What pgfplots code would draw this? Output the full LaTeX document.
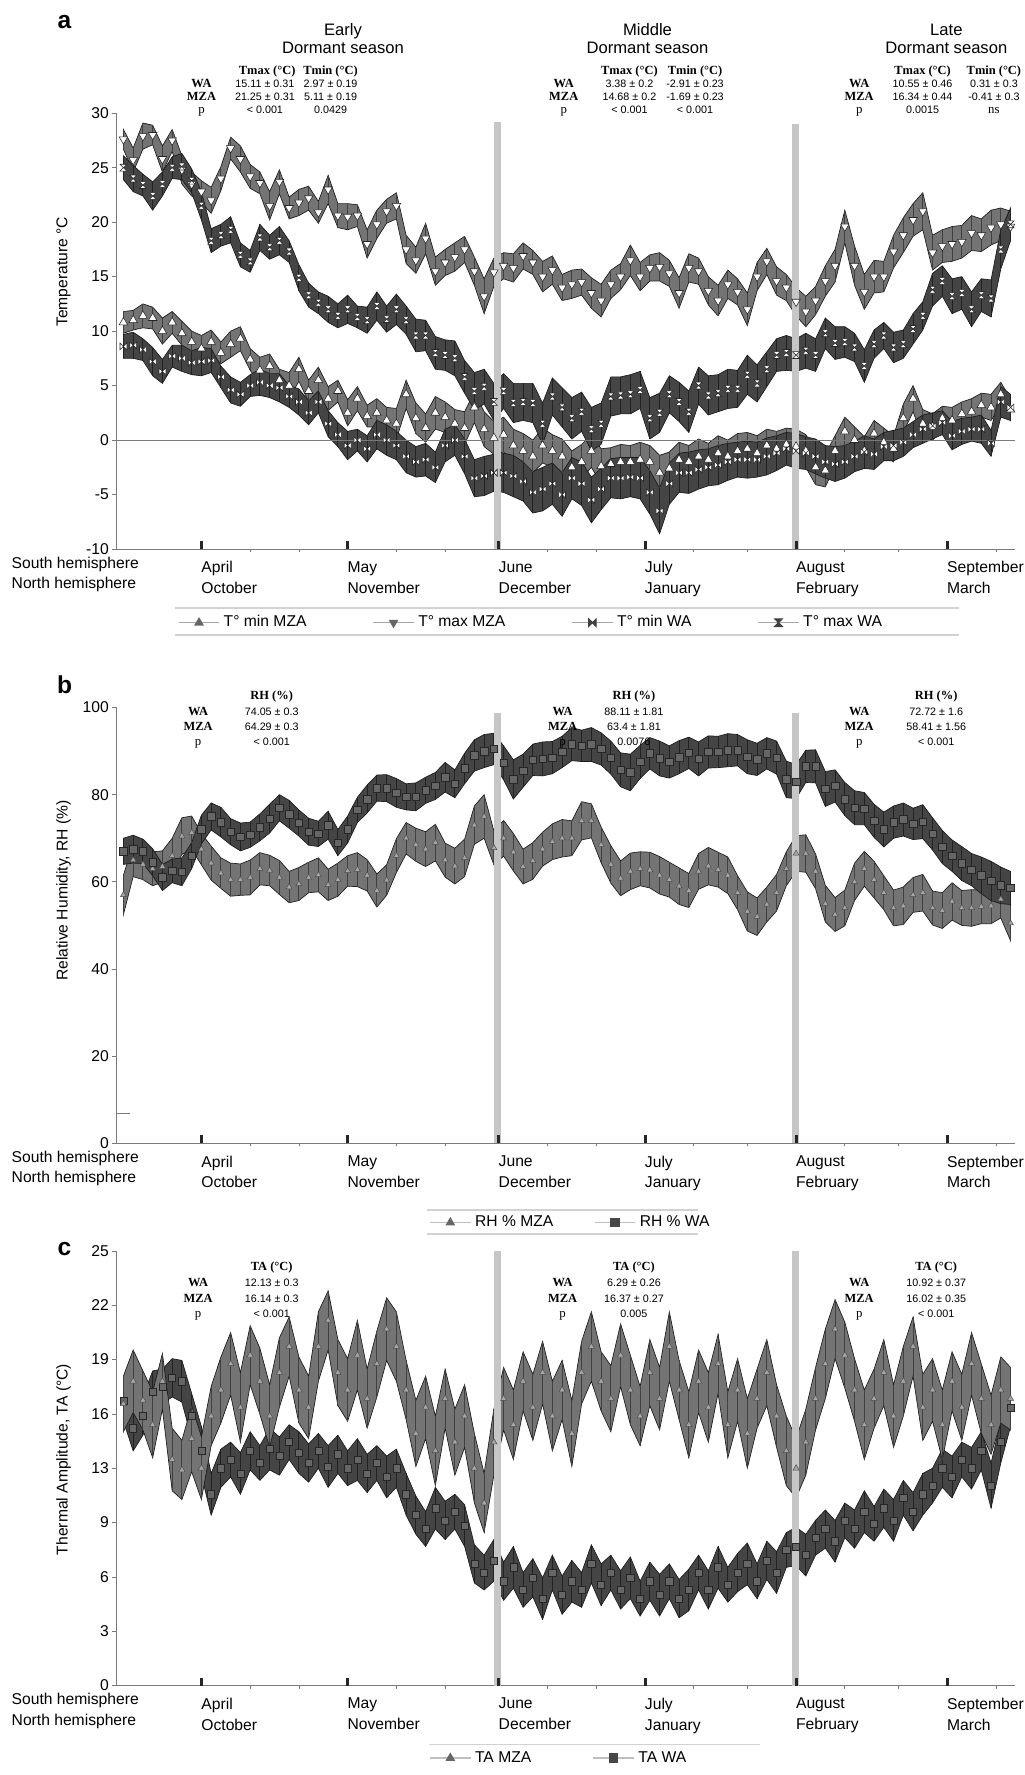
\documentclass[border=0pt]{standalone}
\usepackage{fontspec}
\setmainfont{Liberation Sans}
\newfontfamily\serifF{Liberation Serif}
\usepackage{pgfplots}
\pgfplotsset{compat=1.18}
\usepackage{pgfplotstable}
\usepgfplotslibrary{fillbetween}

\definecolor{mzafill}{HTML}{747474}
\definecolor{mzastripe}{HTML}{404040}
\definecolor{wafill}{HTML}{454545}
\definecolor{wastripe}{HTML}{222222}
\definecolor{bandedge}{HTML}{1A1A1A}
\definecolor{barcol}{HTML}{C6C6C6}
\definecolor{rulecol}{HTML}{D2D2D2}
\definecolor{axcol}{HTML}{7A7A7A}

\pgfdeclareplotmark{hglass}{%
 \pgfpathmoveto{\pgfqpoint{-\pgfplotmarksize}{\pgfplotmarksize}}%
 \pgfpathlineto{\pgfqpoint{\pgfplotmarksize}{\pgfplotmarksize}}%
 \pgfpathlineto{\pgfqpoint{-\pgfplotmarksize}{-\pgfplotmarksize}}%
 \pgfpathlineto{\pgfqpoint{\pgfplotmarksize}{-\pgfplotmarksize}}%
 \pgfpathclose\pgfusepathqfillstroke}
\pgfdeclareplotmark{bowtie}{%
 \pgfpathmoveto{\pgfqpoint{-\pgfplotmarksize}{\pgfplotmarksize}}%
 \pgfpathlineto{\pgfqpoint{-\pgfplotmarksize}{-\pgfplotmarksize}}%
 \pgfpathlineto{\pgfqpoint{\pgfplotmarksize}{\pgfplotmarksize}}%
 \pgfpathlineto{\pgfqpoint{\pgfplotmarksize}{-\pgfplotmarksize}}%
 \pgfpathclose\pgfusepathqfillstroke}

\newcommand\spx[2]{({(#1-103)*0.6pt},{(485-#2)*0.6pt})}
\newcommand\lab{\fontsize{8.3}{11}\selectfont}
\newcommand\hdr{\fontsize{8.8}{10}\selectfont}
\newcommand\hs{\serifF\bfseries\fontsize{6.6}{8}\selectfont}
\newcommand\ps{\serifF\fontsize{6.8}{8}\selectfont}
\newcommand\vs{\fontsize{5.7}{8}\selectfont}
\newcommand\tn[4]{\node[anchor=base, inner sep=0pt, font=#1] at \spx{#2}{#3} {#4};}

\newcommand\band[4]{%
 \addplot[draw=none, name path=#4U, forget plot] table[x=d, y expr=\thisrow{v}+\thisrow{e}] {#1};
 \addplot[draw=none, name path=#4L, forget plot] table[x=d, y expr=\thisrow{v}-\thisrow{e}] {#1};
 \addplot[fill=#2, draw=bandedge, line width=0.35pt, forget plot] fill between[of=#4U and #4L];
 \addplot[draw=none, mark=none, forget plot, error bars/.cd, y dir=both, y explicit, error mark=none, error bar style={draw=#3, line width=0.45pt}] table[x=d, y=v, y error=e] {#1};
}

\pgfplotsset{base/.style={
 scale only axis, width=476.4pt, height=231pt,
 xmin=-17.4, xmax=167,
 axis x line*=bottom, axis y line*=left,
 axis line style={draw=axcol, line width=0.5pt},
 xtick={0,30,61,91,122,153},
 xticklabels={{April\\October},{May\\November},{June\\December},{July\\January},{August\\February},{September\\March}},
 xtick style={draw=none},
 minor xtick={10,20,40,50,71,81,101,112,132,143,163},
 minor tick length=1.6pt,
 every minor x tick/.style={draw=axcol, line width=0.4pt},
 xticklabel style={anchor=north west, align=left, inner sep=0pt, xshift=-0.2pt, yshift=-4pt, font=\lab},
 tick align=outside, major tick length=2.4pt,
 ytick style={draw=axcol, line width=0.4pt},
 yticklabel style={font=\lab, inner sep=0pt, xshift=-1.5pt},
 ylabel style={font=\lab, anchor=center},
 legend style={draw=none, fill=none, inner sep=0pt, font=\lab, anchor=west},
 legend image code/.code={\draw[mark repeat=2,mark phase=2,##1] plot coordinates {(0pt,0pt) (10.8pt,0pt) (21.6pt,0pt)};},
}}

\pgfplotstableread{
d v e
-16 27.6 0.9
-14 25.7 1.1
-12 27.9 1.2
-10 28.0 0.9
-8 25.8 1.2
-6 27.5 1.0
-4 24.8 1.3
-2 23.5 1.1
0 22.8 1.0
2 22.0 1.2
4 24.0 1.1
6 26.8 1.0
8 25.8 1.2
10 24.2 1.1
12 23.6 1.0
14 21.5 1.3
16 23.7 1.1
18 21.3 1.0
20 21.8 1.2
22 22.2 1.1
24 20.9 1.0
26 23.0 1.3
28 20.6 1.1
30 20.5 1.2
32 20.6 1.0
34 18.0 1.3
36 19.8 1.3
38 21.0 1.1
40 21.5 1.2
42 17.5 1.3
44 16.5 1.2
46 18.5 1.4
48 15.5 1.3
50 16.3 1.2
52 16.8 1.3
54 17.5 1.2
56 15.5 1.3
58 13.2 1.6
60 15.4 1.3
62 16.0 1.2
64 15.8 1.3
66 16.9 1.2
68 16.3 1.1
70 15.0 1.4
72 15.6 1.3
74 14.0 1.2
76 14.3 1.3
78 14.5 1.2
80 13.5 1.4
82 12.8 1.5
84 14.3 1.3
86 15.0 1.2
88 16.5 1.4
90 15.0 1.3
92 15.8 1.2
94 15.9 1.3
96 15.3 1.2
98 13.5 1.4
100 15.8 1.3
102 15.5 1.2
104 13.7 1.3
106 12.8 1.4
108 14.3 1.3
110 13.6 1.2
112 12.0 1.5
114 15.0 1.3
116 16.4 1.2
118 14.6 1.3
120 14.0 1.2
122 12.7 1.3
124 11.8 1.4
126 12.8 1.3
128 14.6 1.4
130 16.0 1.5
132 19.6 1.5
134 16.0 1.8
136 13.6 1.6
138 15.0 1.5
140 15.0 1.4
142 17.3 1.5
144 18.8 1.6
146 20.2 1.5
148 21.0 1.7
150 17.2 1.6
152 17.8 1.5
154 18.0 1.6
156 18.2 1.5
158 19.0 1.6
160 18.8 1.5
162 19.5 1.6
164 19.8 1.5
166 19.6 1.4
}\TxM

\pgfplotstableread{
d v e
-16 25.0 1.1
-14 24.0 1.2
-12 23.4 1.0
-10 22.4 1.3
-8 23.5 1.1
-6 25.0 1.0
-4 25.1 1.2
-2 23.8 1.1
0 21.5 1.3
2 18.3 1.1
4 18.8 1.0
6 19.3 1.2
8 17.0 1.1
10 16.4 1.0
12 18.6 1.2
14 17.7 1.1
16 18.3 1.3
18 17.3 1.0
20 14.9 1.2
22 13.3 1.1
24 12.6 1.0
26 12.0 1.2
28 11.4 1.1
30 12.0 1.3
32 11.3 1.0
34 11.0 1.2
36 12.3 1.3
38 11.1 1.2
40 12.0 1.4
42 11.0 1.3
44 9.6 1.5
46 9.6 1.4
48 8.0 1.5
50 7.8 1.4
52 7.5 1.6
54 5.8 1.5
56 4.5 1.7
58 4.9 1.6
60 3.5 1.7
62 4.5 1.6
64 3.4 1.8
66 3.5 1.7
68 3.4 1.8
70 1.5 1.9
72 4.0 1.7
74 3.0 1.8
76 2.0 1.9
78 2.6 1.8
80 1.0 2.0
82 1.5 1.9
84 4.0 1.8
86 4.1 1.7
88 4.2 1.8
90 4.6 1.7
92 2.0 1.9
94 2.5 1.8
96 4.2 1.7
98 3.5 1.8
100 2.6 1.9
102 5.0 1.7
104 4.1 1.8
106 4.3 1.7
108 4.7 1.8
110 4.7 1.7
112 6.0 1.8
114 5.2 1.7
116 6.5 1.6
118 7.8 1.5
120 8.0 1.6
122 7.8 1.5
124 8.2 1.6
126 7.8 1.5
128 9.8 1.4
130 8.9 1.5
132 9.0 1.4
134 8.5 1.3
136 6.8 1.5
138 8.8 1.3
140 9.6 1.2
142 8.5 1.4
144 8.8 1.3
146 10.2 1.4
148 11.4 1.3
150 13.8 1.5
152 14.6 1.4
154 13.2 1.6
156 13.5 1.5
158 12.0 1.6
160 13.3 1.5
162 13.0 1.7
164 17.5 1.8
166 19.8 1.5
}\TxW

\pgfplotstableread{
d v e
-16 10.8 1.0
-14 11.0 0.9
-12 11.4 1.1
-10 11.2 1.0
-8 10.0 1.2
-6 10.8 1.0
-4 9.8 1.1
-2 9.0 1.0
0 8.4 1.2
2 9.0 1.1
4 8.0 1.0
6 8.8 1.2
8 9.3 1.1
10 7.4 1.0
12 6.4 1.2
14 6.8 1.1
16 5.5 1.0
18 5.0 1.2
20 6.5 1.1
22 4.5 1.0
24 5.5 1.2
26 3.8 1.1
28 4.5 1.0
30 2.5 1.2
32 3.8 1.1
34 2.2 1.0
36 2.5 1.3
38 1.8 1.2
40 1.5 1.4
42 4.2 1.3
44 2.0 1.4
46 1.1 1.3
48 2.5 1.5
50 2.1 1.4
52 1.5 1.3
54 1.1 1.5
56 3.0 1.4
58 1.0 1.6
60 0.2 1.5
62 0.5 1.6
64 -0.5 1.5
66 -1.0 1.6
68 -1.5 1.5
70 -0.5 1.6
72 -1.0 1.5
74 -1.5 1.6
76 -2.5 1.5
78 -2.0 1.6
80 -1.0 1.5
82 -2.4 1.6
84 -2.2 1.5
86 -2.0 1.6
88 -2.0 1.5
90 -1.8 1.6
92 -2.0 1.5
94 -3.0 1.6
96 -2.6 1.5
98 -1.8 1.6
100 -2.0 1.5
102 -1.5 1.6
104 -1.8 1.5
106 -1.2 1.6
108 -1.5 1.5
110 -1.0 1.6
112 -0.8 1.5
114 -1.2 1.6
116 -0.5 1.5
118 -0.8 1.6
120 -0.4 1.5
122 -0.6 1.6
124 -1.0 1.5
126 -2.5 1.6
128 -2.8 1.5
130 -1.0 1.4
132 0.8 1.3
134 0.0 1.2
136 -1.0 1.3
138 0.6 1.2
140 -0.2 1.3
142 -0.8 1.2
144 2.0 1.3
146 3.8 1.2
148 1.5 1.3
150 1.2 1.2
152 2.0 1.1
154 1.8 1.2
156 2.4 1.1
158 2.6 1.2
160 3.2 1.1
162 3.0 1.2
164 4.2 1.1
166 2.8 1.0
}\TnM

\pgfplotstableread{
d v e
-16 8.6 1.1
-14 8.7 1.2
-12 8.3 1.0
-10 7.2 1.3
-8 6.3 1.1
-6 7.7 1.0
-4 7.5 1.2
-2 7.1 1.1
0 7.2 1.3
2 7.3 1.1
4 5.8 1.0
6 4.6 1.2
8 4.2 1.1
10 5.0 1.0
12 5.3 1.2
14 5.0 1.1
16 4.8 1.3
18 4.0 1.0
20 3.5 1.2
22 2.5 1.1
24 3.5 1.0
26 1.5 1.2
28 0.5 1.1
30 -0.5 1.3
32 0.0 1.0
34 -0.8 1.2
36 0.5 1.3
38 0.0 1.4
40 -0.5 1.3
42 -1.5 1.5
44 -2.0 1.4
46 -1.8 1.5
48 -2.5 1.4
50 -0.5 1.5
52 0.0 1.4
54 -1.5 1.6
56 -3.5 1.7
58 -3.3 1.8
60 -3.0 1.7
62 -3.0 1.8
64 -3.3 1.9
66 -3.8 1.8
68 -4.8 1.9
70 -4.5 2.0
72 -4.0 1.9
74 -5.0 2.0
76 -3.5 1.9
78 -4.0 2.0
80 -5.5 2.1
82 -4.5 1.9
84 -3.5 1.8
86 -3.5 1.9
88 -3.4 1.8
90 -3.5 1.9
92 -4.8 2.0
94 -6.5 2.1
96 -4.0 1.9
98 -3.0 1.8
100 -3.0 1.9
102 -2.7 1.8
104 -2.5 1.7
106 -2.3 1.8
108 -2.0 1.7
110 -1.8 1.6
112 -1.8 1.7
114 -1.8 1.6
116 -1.5 1.7
118 -1.2 1.6
120 -0.8 1.5
122 -1.0 1.6
124 -1.2 1.5
126 -1.5 1.6
128 -2.0 1.5
130 -2.2 1.6
132 -2.0 1.5
134 -1.5 1.4
136 -1.1 1.5
138 -1.3 1.4
140 -0.6 1.3
142 -0.5 1.4
144 -0.2 1.3
146 0.5 1.2
148 1.0 1.3
150 1.3 1.2
152 1.6 1.1
154 0.4 1.3
156 0.8 1.2
158 1.0 1.1
160 1.0 1.3
162 -0.3 1.2
164 3.5 1.4
166 3.0 1.2
}\TnW

\pgfplotstableread{
d v e
-16 67 3.0
-14 67.5 3.2
-12 67 2.8
-10 64.5 3.1
-8 61 3.0
-6 62.5 2.7
-4 62.3 3.2
-2 66 3.0
0 72 3.3
2 75 3.1
4 73.7 3.4
6 71.5 3.0
8 70.3 3.2
10 70.8 2.9
12 72.5 3.1
14 74.5 3.3
16 77 3.0
18 75.5 3.2
20 73.5 3.0
22 71.5 3.1
24 71 2.9
26 73 3.2
28 69 3.0
30 72 3.1
32 76.5 2.9
34 79 3.2
36 81.5 3.0
38 81.5 3.1
40 80.4 3.3
42 79.5 3.0
44 79.5 3.2
46 81 3.0
48 82 3.1
50 84 3.4
52 82.5 3.2
54 86 3.5
56 89 3.6
58 90 3.8
60 90.5 3.6
62 87.3 3.9
64 83.5 4.5
66 85.5 3.8
68 88 3.6
70 88.2 3.9
72 88.5 3.7
74 89.8 3.6
76 91.6 3.8
78 91.2 3.6
80 91.5 3.9
82 90.5 3.7
84 88.5 3.8
86 85.7 3.9
88 85.1 4.2
90 87.5 3.8
92 89.5 3.6
94 88.3 4.0
96 87.5 3.7
98 88.6 3.8
100 89.6 3.6
102 88.2 3.9
104 89.8 3.7
106 89.8 3.6
108 90.2 3.8
110 90.2 3.6
112 88.7 3.9
114 88.1 3.7
116 89.5 3.6
118 88.5 3.8
120 83.5 4.2
122 83 3.9
124 86.5 3.7
126 86.5 3.8
128 81.3 4.0
130 82 3.7
132 79 3.8
134 77 3.9
136 76.8 3.7
138 74 3.8
140 72 4.0
142 73.7 3.7
144 74.3 3.8
146 73.3 3.6
148 73.8 3.9
150 71 3.7
152 68 3.8
154 66 3.6
156 64.2 3.9
158 62.8 3.7
160 61.5 4.2
162 60.2 4.5
164 59.2 4.2
166 58.6 3.8
}\RHW

\pgfplotstableread{
d v e
-16 57 4.5
-14 65 3.8
-12 64 3.5
-10 63 3.9
-8 63.5 3.6
-6 66 4.0
-4 70.5 4.2
-2 71.3 3.8
0 67.5 3.6
2 64.3 3.9
4 62 3.5
6 60.5 3.8
8 60.5 3.6
10 61 4.0
12 63 3.7
14 62.6 3.5
16 61 3.9
18 58.8 3.6
20 59.5 3.8
22 61 3.5
24 61.6 3.9
26 59.3 3.6
28 60.5 3.8
30 62.5 3.5
32 62.8 3.9
34 61.5 3.6
36 58 3.8
38 60.4 3.5
40 66 3.9
42 70 3.6
44 68.5 3.8
46 67.5 4.0
48 69 4.2
50 65 3.9
52 63.6 4.1
54 65.5 4.3
56 73 4.4
58 75 5.0
60 67.8 3.9
62 70 4.1
64 66.8 4.3
66 63.5 4.0
68 64.8 4.2
70 67.5 3.9
72 69.2 4.1
74 70 4.3
76 70 4.0
78 74 4.4
80 74 3.9
82 68.5 4.1
84 64 4.3
86 60.8 4.0
88 62.4 4.2
90 63 3.9
92 62.7 4.1
94 61.5 4.3
96 60.5 4.0
98 59 4.2
100 58 3.9
102 62.4 4.1
104 63.6 4.3
106 62.8 4.0
108 61.5 4.2
110 57.5 3.9
112 53.2 4.5
114 52 4.3
116 54.8 4.0
118 57.5 4.2
120 63 3.9
122 66.5 4.1
124 66.5 4.3
126 62.4 4.0
128 55 4.2
130 52.5 3.9
132 54 4.1
134 60 4.3
136 63 4.0
138 60.5 4.2
140 57.5 3.9
142 54 4.1
144 54.5 4.3
146 57 4.0
148 57.5 4.2
150 54 3.9
152 53.4 4.1
154 55.5 4.3
156 54 4.0
158 54 4.2
160 54.3 3.9
162 54.5 4.1
164 56 4.3
166 50.5 4.0
}\RHM

\pgfplotstableread{
d v e
-16 16.4 1.2
-14 14.8 1.3
-12 15.5 1.1
-10 16.9 1.2
-8 17.2 1.0
-6 17.7 1.1
-4 17.5 1.2
-2 15.5 1.3
0 13.5 1.4
2 11.0 1.2
4 12.5 1.1
6 13.0 1.0
8 12.2 1.2
10 13.5 1.1
12 12.8 1.0
14 13.6 1.2
16 13.2 1.1
18 14.0 1.0
20 13.4 1.2
22 12.8 1.1
24 13.5 1.0
26 12.6 1.2
28 13.3 1.1
30 12.5 1.0
32 13.0 1.2
34 12.2 1.1
36 12.8 1.0
38 12.0 1.2
40 12.5 1.1
42 11.0 1.2
44 9.8 1.1
46 9.0 1.0
48 10.2 1.2
50 9.5 1.1
52 10.0 1.0
54 9.2 1.2
56 7.0 1.1
58 6.5 1.0
60 7.2 1.2
62 6.0 1.1
64 6.8 1.2
66 5.5 1.0
68 6.2 1.1
70 5.0 1.2
72 6.5 1.0
74 5.2 1.1
76 6.0 1.2
78 5.5 1.0
80 7.0 1.1
82 5.8 1.2
84 6.5 1.0
86 5.5 1.1
88 6.2 1.2
90 5.0 1.0
92 6.0 1.1
94 5.2 1.2
96 6.0 1.0
98 5.0 1.1
100 5.5 1.2
102 6.5 1.0
104 5.5 1.1
106 6.8 1.2
108 5.8 1.0
110 6.5 1.1
112 7.0 1.2
114 6.0 1.0
116 7.2 1.1
118 6.5 1.2
120 7.8 1.0
122 8.0 1.1
124 7.5 1.2
126 8.5 1.0
128 9.0 1.1
130 8.3 1.2
132 9.5 1.0
134 9.0 1.1
136 10.0 1.2
138 9.3 1.0
140 10.2 1.1
142 9.5 1.2
144 10.8 1.0
146 10.0 1.1
148 11.0 1.2
150 11.5 1.0
152 12.5 1.1
154 12.0 1.2
156 13.0 1.0
158 12.5 1.2
160 13.5 1.1
162 11.5 1.3
164 14.0 1.2
166 16.0 1.1
}\TAW

\pgfplotstableread{
d v e
-16 16.2 1.6
-14 17.5 1.8
-12 16.4 1.7
-10 15.0 1.9
-8 17.5 1.6
-6 13.0 1.8
-4 12.4 1.7
-2 14.2 1.9
0 12.5 1.8
2 15.5 1.7
4 17.0 1.9
6 18.5 1.8
8 16.0 2.0
10 19.0 1.7
12 17.5 1.9
14 15.5 1.8
16 18.0 2.0
18 19.5 1.7
20 17.0 1.9
22 16.0 1.8
24 19.5 2.0
26 21.0 1.7
28 18.0 1.9
30 17.0 1.8
32 19.0 2.0
34 16.5 1.7
36 18.5 1.9
38 20.5 1.8
40 19.5 2.0
42 17.0 1.7
44 14.5 1.9
46 16.0 1.8
48 13.5 2.0
50 16.5 1.7
52 14.0 1.9
54 15.5 1.8
56 12.5 2.0
58 10.5 1.7
60 14.0 1.9
62 16.5 1.8
64 15.0 2.0
66 17.5 1.7
68 16.0 1.9
70 18.0 1.8
72 15.5 2.0
74 17.0 1.7
76 14.5 1.9
78 18.0 1.8
80 19.5 2.0
82 17.5 1.7
84 16.5 1.9
86 19.0 1.8
88 17.0 2.0
90 15.5 1.7
92 18.0 1.9
94 16.5 1.8
96 19.5 2.0
98 17.0 1.7
100 15.0 1.9
102 17.5 1.8
104 16.0 2.0
106 18.5 1.7
108 15.0 1.9
110 17.0 1.8
112 14.5 2.0
114 16.5 1.7
116 18.0 1.9
118 15.5 1.8
120 13.5 2.0
122 12.5 1.7
124 14.0 1.9
126 16.5 1.8
128 18.5 2.0
130 20.5 1.7
132 19.0 1.9
134 17.0 1.8
136 15.0 2.0
138 16.5 1.7
140 18.0 1.9
142 15.5 1.8
144 17.5 2.0
146 19.5 1.7
148 16.0 1.9
150 17.0 1.8
152 15.0 2.0
154 17.5 1.7
156 16.0 1.9
158 18.5 1.8
160 16.5 2.0
162 15.0 1.7
164 17.0 1.9
166 16.5 1.8
}\TAM

\begin{document}
\begin{tikzpicture}

% ---------------- panel a
\begin{axis}[base, name=A, at={(0,0)}, anchor=south west,
 ymin=-10, ymax=30, ytick={-10,-5,...,30}, yticklabels={-10,-5,0,5,10,15,20,25,30},
 ylabel={Temperature °C}, ylabel style={at={(axis description cs:-0.059,0.636)}},
 legend columns=4, legend style={at={(0.068,-0.169)}, /tikz/every even column/.append style={column sep=33pt}}]
\band{\TxM}{mzafill}{mzastripe}{txm}
\band{\TnM}{mzafill}{mzastripe}{tnm}
\band{\TxW}{wafill}{wastripe}{txw}
\band{\TnW}{wafill}{wastripe}{tnw}
\addplot[only marks, forget plot, mark=triangle*, mark size=2.6pt, mark options={rotate=180, fill=white, draw=black!85, line width=0.3pt}] table[x=d,y=v] {\TxM};
\addplot[only marks, forget plot, mark=triangle*, mark size=2.6pt, mark options={fill=white, draw=black!85, line width=0.3pt}] table[x=d,y=v] {\TnM};
\addplot[only marks, forget plot, mark=hglass, mark size=1.8pt, mark options={fill=white, draw=black!85, line width=0.3pt}] table[x=d,y=v] {\TxW};
\addplot[only marks, forget plot, mark=bowtie, mark size=1.8pt, mark options={fill=white, draw=black!85, line width=0.3pt}] table[x=d,y=v] {\TnW};
\draw[axcol, line width=0.5pt] (axis cs:-17.4,0) -- (axis cs:167,0);
\fill[barcol] (axis cs:60.1,-10) rectangle (axis cs:61.5,29.2);
\fill[barcol] (axis cs:121.2,-10) rectangle (axis cs:122.6,29.0);
\addlegendimage{draw=gray!70, line width=0.6pt, mark=triangle*, mark size=2.4pt, mark options={fill=black!60, draw=black!60}}
\addlegendentry{T° min MZA}
\addlegendimage{draw=gray!70, line width=0.6pt, mark=triangle*, mark size=2.4pt, mark options={rotate=180, fill=black!60, draw=black!60}}
\addlegendentry{T° max MZA}
\addlegendimage{draw=gray!70, line width=0.6pt, mark=bowtie, mark size=2pt, mark options={fill=black!75, draw=black!75}}
\addlegendentry{T° min WA}
\addlegendimage{draw=gray!70, line width=0.6pt, mark=hglass, mark size=2pt, mark options={fill=black!75, draw=black!75}}
\addlegendentry{T° max WA}
\end{axis}

% ---------------- panel b
\begin{axis}[base, name=B, at={(0,-315pt)}, anchor=south west,
 ymin=0, ymax=100, ytick={0,20,...,100}, yticklabels={0,20,40,60,80,100},
 ylabel={Relative Humidity, RH (\%)}, ylabel style={at={(axis description cs:-0.059,0.58)}},
 legend columns=2, legend style={at={(0.3476,-0.1818)}, /tikz/every even column/.append style={column sep=19.6pt}}]
\band{\RHM}{mzafill}{mzastripe}{rhm}
\band{\RHW}{wafill}{wastripe}{rhw}
\addplot[only marks, forget plot, mark=triangle*, mark size=1.8pt, mark options={fill=black!35, draw=black!70, line width=0.25pt}] table[x=d,y=v] {\RHM};
\addplot[only marks, forget plot, mark=square*, mark size=2.0pt, mark options={fill=black!60, draw=black!85, line width=0.3pt}] table[x=d,y=v] {\RHW};
\fill[barcol] (axis cs:60.1,0) rectangle (axis cs:61.5,98.7);
\fill[barcol] (axis cs:121.2,0) rectangle (axis cs:122.6,98.7);
\draw[axcol, line width=0.5pt] (axis cs:-17.4,6.8) -- (axis cs:-14.6,6.8);
\addlegendimage{draw=gray!50, line width=0.6pt, mark=triangle*, mark size=2.4pt, mark options={fill=black!60, draw=black!60}}
\addlegendentry{RH \% MZA}
\addlegendimage{draw=gray!50, line width=0.6pt, mark=square*, mark size=2.2pt, mark options={fill=black!72, draw=black!72}}
\addlegendentry{RH \% WA}
\end{axis}

% ---------------- panel c
\begin{axis}[base, name=C, at={(0,-602.4pt)}, anchor=south west, height=230.4pt,
 ymin=0, ymax=25, ytick={0,3.125,...,25}, yticklabels={0,3,6,9,13,16,19,22,25},
 ylabel={Thermal Amplitude, TA (°C)}, ylabel style={at={(axis description cs:-0.059,0.52)}},
 legend columns=2, legend style={at={(0.3476,-0.1667)}, /tikz/every even column/.append style={column sep=30.6pt}}]
\band{\TAW}{wafill}{wastripe}{taw}
\band{\TAM}{mzafill}{mzastripe}{tam}
\addplot[only marks, forget plot, mark=square*, mark size=1.9pt, mark options={fill=black!60, draw=black!85, line width=0.3pt}] table[x=d,y=v] {\TAW};
\addplot[only marks, forget plot, mark=triangle*, mark size=1.9pt, mark options={fill=black!35, draw=black!70, line width=0.25pt}] table[x=d,y=v] {\TAM};
\fill[barcol] (axis cs:60.1,0) rectangle (axis cs:61.5,25);
\fill[barcol] (axis cs:121.2,0) rectangle (axis cs:122.6,25);
\addlegendimage{draw=gray!50, line width=0.6pt, mark=triangle*, mark size=2.4pt, mark options={fill=black!60, draw=black!60}}
\addlegendentry{TA MZA}
\addlegendimage{draw=gray!50, line width=0.6pt, mark=square*, mark size=2.2pt, mark options={fill=black!72, draw=black!72}}
\addlegendentry{TA WA}
\end{axis}

% month tick marks
\foreach \m in {177.9,307.1,440.6,569.8,703.2,836.7} {
 \foreach \yb in {485,1010,1489} {\fill[black!85] \spx{\m-1.33}{\yb} rectangle \spx{\m+1.33}{\yb+7};}
}

% ---------------- panel letters
\node[anchor=base, inner sep=0pt, font=\bfseries\fontsize{13}{14}\selectfont] at \spx{57}{25} {a};
\node[anchor=base, inner sep=0pt, font=\bfseries\fontsize{13}{14}\selectfont] at \spx{57}{613} {b};
\node[anchor=base, inner sep=0pt, font=\bfseries\fontsize{13}{14}\selectfont] at \spx{57}{1109} {c};

% hemisphere labels
\foreach \yy in {502,1027,1506} {\node[anchor=base west, inner sep=0pt, font=\lab] at \spx{10}{\yy} {South hemisphere};}
\foreach \yy in {520,1045,1524} {\node[anchor=base west, inner sep=0pt, font=\lab] at \spx{10}{\yy} {North hemisphere};}

% legend rules
\draw[rulecol, line width=1pt] \spx{155}{537} -- \spx{847}{537};
\draw[rulecol, line width=1pt] \spx{155}{561} -- \spx{847}{561};
\draw[rulecol, line width=1pt] \spx{377}{1069} -- \spx{617}{1069};
\draw[rulecol, line width=1pt] \spx{377}{1090} -- \spx{617}{1090};
\draw[rulecol, line width=1pt] \spx{379}{1541} -- \spx{671}{1541};

% season headings
\tn{\hdr}{303}{31}{Early}\tn{\hdr}{303}{47}{Dormant season}
\tn{\hdr}{572}{31}{Middle}\tn{\hdr}{572}{47}{Dormant season}
\tn{\hdr}{836}{31}{Late}\tn{\hdr}{836}{47}{Dormant season}

% panel a stats
\tn{\hs}{236}{66}{Tmax (°C)}\tn{\hs}{292}{66}{Tmin (°C)}
\tn{\hs}{178}{77.5}{WA}\tn{\vs}{234}{77.5}{15.11 ± 0.31}\tn{\vs}{292}{77.5}{2.97 ± 0.19}
\tn{\hs}{178}{89}{MZA}\tn{\vs}{234}{89}{21.25 ± 0.31}\tn{\vs}{292}{89}{5.11 ± 0.19}
\tn{\ps}{178}{100.5}{p}\tn{\vs}{234}{100.5}{< 0.001}\tn{\vs}{292}{100.5}{0.0429}

\tn{\hs}{556}{66}{Tmax (°C)}\tn{\hs}{614}{66}{Tmin (°C)}
\tn{\hs}{498}{77.5}{WA}\tn{\vs}{556}{77.5}{3.38 ± 0.2}\tn{\vs}{614}{77.5}{-2.91 ± 0.23}
\tn{\hs}{498}{89}{MZA}\tn{\vs}{556}{89}{14.68 ± 0.2}\tn{\vs}{614}{89}{-1.69 ± 0.23}
\tn{\ps}{498}{100.5}{p}\tn{\vs}{556}{100.5}{< 0.001}\tn{\vs}{614}{100.5}{< 0.001}

\tn{\hs}{815}{66}{Tmax (°C)}\tn{\hs}{878}{66}{Tmin (°C)}
\tn{\hs}{759}{77.5}{WA}\tn{\vs}{815}{77.5}{10.55 ± 0.46}\tn{\vs}{878}{77.5}{0.31 ± 0.3}
\tn{\hs}{759}{89}{MZA}\tn{\vs}{815}{89}{16.34 ± 0.44}\tn{\vs}{878}{89}{-0.41 ± 0.3}
\tn{\ps}{759}{100.5}{p}\tn{\vs}{815}{100.5}{0.0015}\tn{\ps}{878}{100.5}{ns}

% panel b stats
\tn{\hs}{240}{618}{RH (\%)}
\tn{\hs}{175}{632}{WA}\tn{\vs}{240}{632}{74.05 ± 0.3}
\tn{\hs}{175}{645.5}{MZA}\tn{\vs}{240}{645.5}{64.29 ± 0.3}
\tn{\ps}{175}{659}{p}\tn{\vs}{240}{659}{< 0.001}
\tn{\hs}{560}{618}{RH (\%)}
\tn{\hs}{497}{632}{WA}\tn{\vs}{560}{632}{88.11 ± 1.81}
\tn{\hs}{497}{645.5}{MZA}\tn{\vs}{560}{645.5}{63.4 ± 1.81}
\tn{\ps}{497}{659}{p}\tn{\vs}{560}{659}{0.0076}
\tn{\hs}{827}{618}{RH (\%)}
\tn{\hs}{759}{632}{WA}\tn{\vs}{827}{632}{72.72 ± 1.6}
\tn{\hs}{759}{645.5}{MZA}\tn{\vs}{827}{645.5}{58.41 ± 1.56}
\tn{\ps}{759}{659}{p}\tn{\vs}{827}{659}{< 0.001}

% panel c stats
\tn{\hs}{240}{1122}{TA (°C)}
\tn{\hs}{175}{1136.5}{WA}\tn{\vs}{240}{1136.5}{12.13 ± 0.3}
\tn{\hs}{175}{1151}{MZA}\tn{\vs}{240}{1151}{16.14 ± 0.3}
\tn{\ps}{175}{1164}{p}\tn{\vs}{240}{1164}{< 0.001}
\tn{\hs}{560}{1122}{TA (°C)}
\tn{\hs}{497}{1136.5}{WA}\tn{\vs}{560}{1136.5}{6.29 ± 0.26}
\tn{\hs}{497}{1151}{MZA}\tn{\vs}{560}{1151}{16.37 ± 0.27}
\tn{\ps}{497}{1164}{p}\tn{\vs}{560}{1164}{0.005}
\tn{\hs}{827}{1122}{TA (°C)}
\tn{\hs}{759}{1136.5}{WA}\tn{\vs}{827}{1136.5}{10.92 ± 0.37}
\tn{\hs}{759}{1151}{MZA}\tn{\vs}{827}{1151}{16.02 ± 0.35}
\tn{\ps}{759}{1164}{p}\tn{\vs}{827}{1164}{< 0.001}

% exact page size
\pgfresetboundingbox
\path \spx{0}{0} rectangle \spx{905}{1568};
\end{tikzpicture}
\end{document}
